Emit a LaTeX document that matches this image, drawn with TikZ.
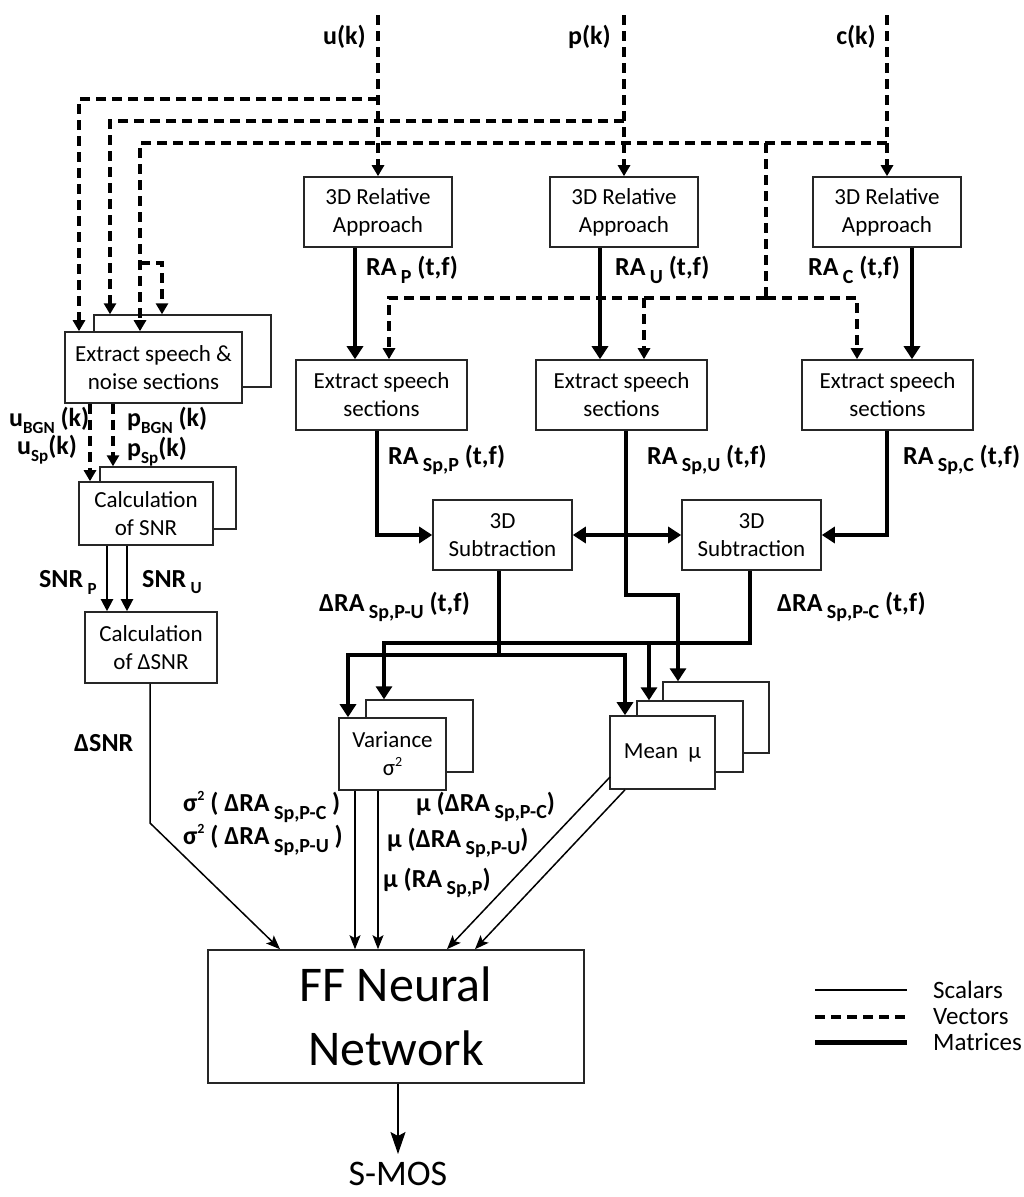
\documentclass[tikz,border=0pt]{standalone}
\usepackage{fontspec}
\setmainfont{Carlito}
\usetikzlibrary{arrows.meta}
\newcommand{\boxfont}{\fontsize{23}{28}\selectfont}
\newcommand{\labfont}{\fontsize{26}{30}\selectfont\bfseries}
\newcommand{\lowsub}[1]{\raisebox{-0.6ex}{\fontsize{20}{20}\selectfont #1}}
\newcommand{\lowsubs}[1]{\raisebox{-0.55ex}{\fontsize{17}{17}\selectfont #1}}
\newcommand{\smallsup}[1]{\raisebox{0.85ex}{\fontsize{14}{14}\selectfont #1}}
\begin{document}
\begin{tikzpicture}[x=1pt,y=-1pt,
  box/.style={draw=black!85, line width=1.6pt, fill=white, inner sep=0pt, align=center, font=\boxfont},
  backbox/.style={draw=black!85, line width=1.4pt, fill=white, inner sep=0pt},
  lab/.style={font=\labfont, inner sep=0pt},
  vecline/.style={line width=3.5pt, dash pattern=on 10pt off 6pt},
  vec/.style={vecline, -{Triangle[length=11pt,width=12pt]}},
  matline/.style={line width=4.5pt},
  mat/.style={matline, -{Triangle[length=13pt,width=16pt]}},
  matboth/.style={matline, {Triangle[length=13pt,width=16pt]}-{Triangle[length=13pt,width=16pt]}},
  mid/.style={line width=2.2pt, -{Triangle[length=12pt,width=12pt]}},
  sca/.style={line width=1.5pt, -{Stealth[length=14pt,width=11pt,inset=3pt]}},
  scabig/.style={line width=1.5pt, -{Stealth[length=22pt,width=15pt,inset=4pt]}},
]
\fill[white] (0,0) rectangle (1024,1197);
\useasboundingbox (0,0) rectangle (1024,1197);

% ---------- boxes ----------
\node[backbox, minimum width=177pt, minimum height=72pt] (nz2) at (182.5,351) {};
\node[box, minimum width=177pt, minimum height=71pt] (nz1) at (153.5,367.5) {Extract speech \&\\noise sections};
\node[backbox, minimum width=136pt, minimum height=62pt] (snr2) at (168,498) {};
\node[box, minimum width=134pt, minimum height=63pt] (snr1) at (146,513.5) {Calculation\\of SNR};
\node[box, minimum width=132pt, minimum height=71pt] (dsnr) at (151,647.5) {Calculation\\of ΔSNR};

\node[box, minimum width=148pt, minimum height=70pt] (ra1) at (378,212) {3D Relative\\Approach};
\node[box, minimum width=148pt, minimum height=70pt] (ra2) at (624,212) {3D Relative\\Approach};
\node[box, minimum width=148pt, minimum height=70pt] (ra3) at (887,212) {3D Relative\\Approach};

\node[box, minimum width=171pt, minimum height=70pt] (ex1) at (381.5,395) {Extract speech\\sections};
\node[box, minimum width=171pt, minimum height=70pt] (ex2) at (621.5,395) {Extract speech\\sections};
\node[box, minimum width=171pt, minimum height=70pt] (ex3) at (887.5,395) {Extract speech\\sections};

\node[box, minimum width=139pt, minimum height=70pt] (sub1) at (502.5,535) {3D\\Subtraction};
\node[box, minimum width=139pt, minimum height=70pt] (sub2) at (751.5,535) {3D\\Subtraction};

\node[backbox, minimum width=107pt, minimum height=72pt] (var2) at (419.5,736) {};
\node[box, minimum width=107pt, minimum height=72pt] (var1) at (392.5,754) {Variance\\σ\smallsup{2}};

\node[backbox, minimum width=106pt, minimum height=71pt] (mean3) at (716,717.5) {};
\node[backbox, minimum width=106pt, minimum height=71pt] (mean2) at (690,736.5) {};
\node[box, minimum width=105pt, minimum height=73pt] (mean1) at (662.5,752.5) {Mean\ \ μ};

\node[box, minimum width=376pt, minimum height=133pt, font=\fontsize{50}{64}\selectfont] (ff) at (396,1016.5) {FF Neural\\Network};
\node[font=\fontsize{36}{36}\selectfont, inner sep=0pt, anchor=north] (smos) at (398,1162) {S-MOS};

% ---------- labels ----------
\node[lab, anchor=east] (lu) at (366,37) {u(k)};
\node[lab, anchor=east] (lp) at (611,37) {p(k)};
\node[lab, anchor=east] (lc) at (876,37) {c(k)};
\node[lab, anchor=west] (lrap) at (366,270) {RA\,\lowsub{P} (t,f)};
\node[lab, anchor=west] (lrau) at (615,270) {RA\,\lowsub{U} (t,f)};
\node[lab, anchor=west] (lrac) at (808,270) {RA\,\lowsub{C} (t,f)};
\node[lab, anchor=west] (lub) at (9,420) {u\lowsubs{BGN} (k)};
\node[lab, anchor=west] (lus) at (17,450) {u\lowsubs{Sp}(k)};
\node[lab, anchor=west] (lpb) at (127,420) {p\lowsubs{BGN} (k)};
\node[lab, anchor=west] (lps) at (127,452) {p\lowsubs{Sp}(k)};
\node[lab, anchor=west] (lsp) at (39,582) {SNR\,\lowsubs{P}};
\node[lab, anchor=west] (lsu) at (142,582) {SNR\,\lowsubs{U}};
\node[lab, anchor=west] (lrasp) at (388,460) {RA\,\lowsub{Sp,P} (t,f)};
\node[lab, anchor=west] (lrasu) at (647,460) {RA\,\lowsub{Sp,U} (t,f)};
\node[lab, anchor=west] (lrasc) at (903,460) {RA\,\lowsub{Sp,C} (t,f)};
\node[lab, anchor=west] (ldpu) at (319,607) {ΔRA\,\lowsub{Sp,P-U} (t,f)};
\node[lab, anchor=west] (ldpc) at (777,607) {ΔRA\,\lowsub{Sp,P-C} (t,f)};
\node[lab, anchor=west] (ldsnr) at (74,743) {ΔSNR};
\node[lab, anchor=west] (ls1) at (183,807) {σ\smallsup{2} ( ΔRA\,\lowsub{Sp,P-C} )};
\node[lab, anchor=west] (ls2) at (183,840) {σ\smallsup{2} ( ΔRA\,\lowsub{Sp,P-U} )};
\node[lab, anchor=west] (lm1) at (416,807) {μ (ΔRA\,\lowsub{Sp,P-C})};
\node[lab, anchor=west] (lm2) at (387,843) {μ (ΔRA\,\lowsub{Sp,P-U})};
\node[lab, anchor=west] (lm3) at (383,883) {μ (RA\,\lowsub{Sp,P})};

% ---------- helper coordinates ----------
\coordinate (uin) at (378,15);
\coordinate (pin) at (624,15);
\coordinate (cin) at (887,15);
\coordinate (j1) at (378,99);  \coordinate (k1) at (79,99);
\coordinate (j2) at (624,121); \coordinate (k2) at (110,121);
\coordinate (j3) at (887,143); \coordinate (k3) at (140,143);
\coordinate (b1) at (140,263); \coordinate (b2) at (162,263);
\coordinate (j4) at (766,143); \coordinate (j5) at (766,298);
\coordinate (m1) at (389,298); \coordinate (m2) at (644,298); \coordinate (m3) at (857,298);
\coordinate (X355) at (355,0); \coordinate (X600) at (600,0); \coordinate (X912) at (912,0);
\coordinate (X377) at (377,0); \coordinate (X626) at (626,0); \coordinate (X887) at (887,0);
\coordinate (q1) at (626,595); \coordinate (X678) at (678,0);
\coordinate (X499) at (499,0); \coordinate (s1j) at (499,655);
\coordinate (X348) at (348,0); \coordinate (X625) at (625,0);
\coordinate (X750) at (750,0); \coordinate (s2j) at (750,643);
\coordinate (X384) at (384,0); \coordinate (t2) at (649,643);
\coordinate (X90) at (90,0); \coordinate (X113) at (113,0);
\coordinate (X107) at (107,0); \coordinate (X127) at (127,0);
\coordinate (X150) at (150,0); \coordinate (d1) at (150,823); \coordinate (X280) at (280,0);
\coordinate (X378) at (378,0); \coordinate (X447) at (447,0); \coordinate (X475) at (475,0);
\coordinate (mo1) at (610,777);
\coordinate (X398) at (398,0);

% ---------- vectors (dashed) ----------
\draw[vec] (uin) -- (ra1.north);
\draw[vec] (pin) -- (ra2.north);
\draw[vec] (cin) -- (ra3.north);
\draw[vec] (j1) -- (k1) -- (k1 |- nz1.north);
\draw[vec] (j2) -- (k2) -- (k2 |- nz2.north);
\draw[vec] (j3) -- (k3) -- (k3 |- nz1.north);
\draw[vec] (b1) -- (b2) -- (b2 |- nz2.north);
\draw[vecline] (j4) -- (j5);
\draw[vec] (j5) -- (m1) -- (m1 |- ex1.north);
\draw[vec] (j5) -- (m3) -- (m3 |- ex3.north);
\draw[vec] (m2) -- (m2 |- ex2.north);
\draw[vec] (X90 |- nz1.south) -- (X90 |- snr1.north);
\draw[vec] (X113 |- nz1.south) -- (X113 |- snr2.north);

% ---------- matrices (thick) ----------
\draw[mat] (X355 |- ra1.south) -- (X355 |- ex1.north);
\draw[mat] (X600 |- ra2.south) -- (X600 |- ex2.north);
\draw[mat] (X912 |- ra3.south) -- (X912 |- ex3.north);
\draw[mat] (X377 |- ex1.south) |- (sub1.west);
\draw[mat] (X887 |- ex3.south) |- (sub2.east);
\draw[mat] (X626 |- ex2.south) -- (q1) -| (X678 |- mean3.north);
\draw[matboth] (sub1.east) -- (sub2.west);
\draw[mat] (X750 |- sub2.south) -- (s2j) -| (X384 |- var2.north);
\draw[mat] (t2) -- (t2 |- mean2.north);
\draw[mat] (X499 |- sub1.south) -- (s1j) -| (X348 |- var1.north);
\draw[mat] (s1j) -| (X625 |- mean1.north);

% ---------- scalars ----------
\draw[mid] (X107 |- snr1.south) -- (X107 |- dsnr.north);
\draw[mid] (X127 |- snr1.south) -- (X127 |- dsnr.north);
\draw[sca] (X150 |- dsnr.south) -- (d1) -- (X280 |- ff.north);
\draw[sca] (X355 |- var1.south) -- (X355 |- ff.north);
\draw[sca] (X378 |- var1.south) -- (X378 |- ff.north);
\draw[sca] (mo1) -- (X447 |- ff.north);
\draw[sca] (X625 |- mean1.south) -- (X475 |- ff.north);
\draw[scabig, shorten >=8pt] (X398 |- ff.south) -- (smos.north);

% ---------- legend ----------
\coordinate (lg1a) at (815,990); \coordinate (lg1b) at (907,990);
\coordinate (lg2a) at (815,1017); \coordinate (lg2b) at (907,1017);
\coordinate (lg3a) at (815,1042); \coordinate (lg3b) at (907,1042);
\draw[line width=1.5pt] (lg1a) -- (lg1b);
\draw[line width=3.5pt, dash pattern=on 10pt off 6pt] (lg2a) -- (lg2b);
\draw[line width=5pt] (lg3a) -- (lg3b);
\node[anchor=west, font=\fontsize{25}{25}\selectfont, inner sep=0pt] (lgt1) at (933,990) {Scalars};
\node[anchor=west, font=\fontsize{25}{25}\selectfont, inner sep=0pt] (lgt2) at (933,1017) {Vectors};
\node[anchor=west, font=\fontsize{25}{25}\selectfont, inner sep=0pt] (lgt3) at (933,1042) {Matrices};
\end{tikzpicture}
\end{document}
